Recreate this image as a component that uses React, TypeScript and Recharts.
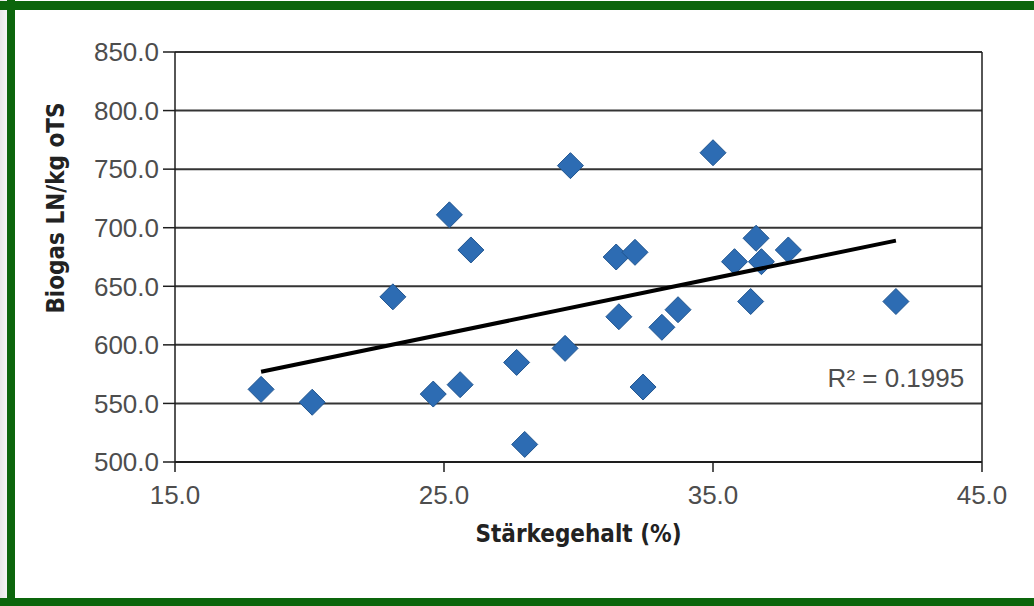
import React from "react";
import {
  ScatterChart, Scatter, XAxis, YAxis, CartesianGrid, ReferenceLine, ReferenceDot,
} from "recharts";

// Stärkegehalt (%) vs. Biogas LN/kg oTS
const starch = [18.2, 20.1, 23.1, 24.6, 25.2, 25.6, 26.0, 27.7, 28.0, 29.5, 29.7, 31.4, 31.5, 32.1, 32.4, 33.1, 33.7, 35.0, 35.8, 36.6, 36.4, 36.8, 37.8, 41.8];
const biogas = [562, 551, 641, 558, 711, 566, 681, 585, 515, 597, 753, 675, 624, 679, 564, 615, 630, 764, 671, 691, 637, 671, 681, 637];

// linear trend line end points
const trendX = [18.2, 41.8];
const trendY = [577, 689];

const xTicks = [15, 25, 35, 45];
const yTicks = [500, 550, 600, 650, 700, 750, 800, 850];
const r2Label = "R² = 0.1995";

const points = starch.map((x, i) => ({ x, y: biogas[i] }));
const trend = trendX.map((x, i) => ({ x, y: trendY[i] }));

const GREEN = "#0c650c";
const INK = "#1e1e1e";
const TEXT = "#4d4d4d";
const FONT = "'Liberation Sans', Arial, sans-serif";
const NARROW = "'Liberation Sans Narrow', 'DejaVu Sans Condensed', 'Liberation Sans', Arial, sans-serif";

const Diamond = (props: any) => {
  const { cx, cy } = props;
  if (cx == null || cy == null) return null;
  const s = 13;
  return (
    <polygon
      points={`${cx},${cy - s} ${cx + s},${cy} ${cx},${cy + s} ${cx - s},${cy}`}
      fill="#2d6cb3"
      stroke="#21558f"
      strokeWidth={1}
    />
  );
};

const NoDot = () => null;

const YTitle = () => (
  <text
    x={56}
    y={208}
    transform="rotate(-90 56 208)"
    textAnchor="middle"
    dominantBaseline="central"
    fontFamily={NARROW}
    fontWeight="bold"
    fontSize={24}
    fill="#222"
  >
    Biogas LN/kg oTS
  </text>
);

const XTitle = (props: any) => {
  const vb = props.viewBox || { x: 0, y: 0, width: 0 };
  return (
    <text
      x={vb.x + vb.width / 2}
      y={vb.y + 80}
      textAnchor="middle"
      fontFamily={NARROW}
      fontWeight="bold"
      fontSize={24}
      fill="#222"
    >
      Stärkegehalt (%)
    </text>
  );
};

export default function App() {
  return (
    <div style={{ position: "absolute", left: 0, top: 0, width: 1034, height: 606, background: "#fff", overflow: "hidden" }}>
      <div style={{ position: "absolute", left: 0, top: 0, width: 7, height: 606, background: "linear-gradient(to right, #e6e6e6, #f4f4f4)" }} />
      <div style={{ position: "absolute", left: 0, top: 1, width: 1034, height: 9, background: GREEN }} />
      <div style={{ position: "absolute", left: 7, top: 0, width: 8, height: 606, background: GREEN }} />
      <div style={{ position: "absolute", left: 0, top: 598, width: 1034, height: 8, background: GREEN }} />
      <div style={{ position: "absolute", left: 0, top: 0 }}>
        <ScatterChart width={1034} height={606} margin={{ top: 52, right: 52, bottom: 44, left: 0 }}>
          <CartesianGrid vertical={false} stroke={INK} strokeWidth={2} strokeOpacity={0.9} />
          <XAxis
            type="number"
            dataKey="x"
            domain={[15, 45]}
            ticks={xTicks}
            tickFormatter={(v) => Number(v).toFixed(1)}
            height={100}
            axisLine={{ stroke: INK, strokeWidth: 2 }}
            tickLine={{ stroke: INK, strokeWidth: 1.5 }}
            tickSize={10}
            tickMargin={14}
            tick={{ fill: TEXT, fontSize: 26, fontFamily: FONT }}
            label={<XTitle />}
          />
          <YAxis
            type="number"
            dataKey="y"
            domain={[500, 850]}
            ticks={yTicks}
            tickFormatter={(v) => Number(v).toFixed(1)}
            width={175}
            axisLine={{ stroke: INK, strokeWidth: 1.5 }}
            tickLine={{ stroke: INK, strokeWidth: 1.5 }}
            tickSize={12}
            tickMargin={4}
            tick={{ fill: TEXT, fontSize: 26, fontFamily: FONT }}
            label={<YTitle />}
          />
          <ReferenceLine x={45} stroke={INK} strokeWidth={1.5} />
          <Scatter data={points} shape={<Diamond />} isAnimationActive={false} />
          <Scatter
            data={trend}
            line={{ stroke: "#000", strokeWidth: 4 }}
            shape={<NoDot />}
            isAnimationActive={false}
          />
          <ReferenceDot
            x={41.8}
            y={572}
            r={0}
            fill="none"
            stroke="none"
            label={{ value: r2Label, position: "center", fill: TEXT, fontSize: 26, fontFamily: FONT }}
          />
        </ScatterChart>
      </div>
    </div>
  );
}
